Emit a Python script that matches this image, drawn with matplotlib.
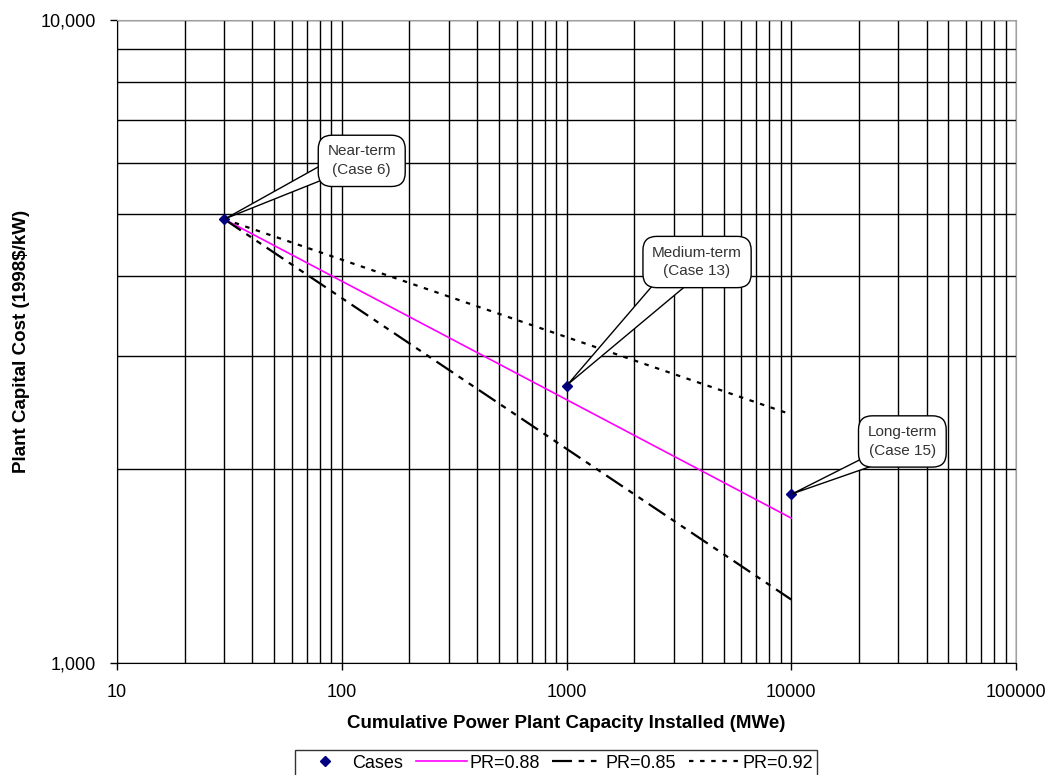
import numpy as np
import matplotlib
matplotlib.use("Agg")
import matplotlib.pyplot as plt
from matplotlib.lines import Line2D
from matplotlib.ticker import FixedLocator, LogLocator, NullFormatter, FixedFormatter

plt.rcParams['font.family'] = ['Liberation Sans', 'DejaVu Sans']

# Estimated cases (cumulative capacity in MWe, capital cost in 1998$/kW)
case_names = ["Near-term\n(Case 6)", "Medium-term\n(Case 13)", "Long-term\n(Case 15)"]
case_capacity = [30, 1000, 10000]
case_cost = [4900, 2700, 1830]

# Learning curves: start and end of each progress-ratio line
curve_capacity = [30, 10000]
pr088_cost = [4900, 1680]
pr085_cost = [4900, 1255]
pr092_cost = [4900, 2435]

x_ticks = [10, 100, 1000, 10000, 100000]
x_tick_labels = ["10", "100", "1000", "10000", "100000"]
y_ticks = [1000, 10000]
y_tick_labels = ["1,000", "10,000"]

fig = plt.figure(figsize=(10.5, 7.75), dpi=100)
ax = fig.add_axes([117 / 1050, 1 - 663 / 775, (1016 - 117) / 1050, (663 - 20) / 775])

ax.set_xscale("log")
ax.set_yscale("log")
ax.set_xlim(10, 100000)
ax.set_ylim(1000, 10000)

# Grid on every decade subdivision
ax.xaxis.set_major_locator(FixedLocator(x_ticks))
ax.xaxis.set_major_formatter(FixedFormatter(x_tick_labels))
ax.yaxis.set_major_locator(FixedLocator(y_ticks))
ax.yaxis.set_major_formatter(FixedFormatter(y_tick_labels))
ax.xaxis.set_minor_locator(LogLocator(base=10, subs=np.arange(2, 10)))
ax.yaxis.set_minor_locator(LogLocator(base=10, subs=np.arange(2, 10)))
ax.xaxis.set_minor_formatter(NullFormatter())
ax.yaxis.set_minor_formatter(NullFormatter())
ax.grid(True, which="both", color="black", linewidth=1.0, zorder=0)
ax.set_axisbelow(True)
ax.tick_params(which="major", direction="out", length=5, width=1, labelsize=13, colors="black")
ax.tick_params(which="minor", length=0)
ax.tick_params(axis="x", pad=10)
ax.tick_params(axis="y", pad=10)
for side in ("top", "right"):
    ax.spines[side].set_color("#a0a0a0")
for side in ("left", "bottom"):
    ax.spines[side].set_color("black")

ax.plot(curve_capacity, pr088_cost, color="#ff00ff", linewidth=1.2, zorder=3)
ax.plot(curve_capacity, pr085_cost, color="black", linewidth=1.6,
        dashes=(9, 3, 2.5, 3, 2.5, 3), zorder=3)
ax.plot(curve_capacity, pr092_cost, color="black", linewidth=1.6,
        dashes=(2, 3), zorder=3)
ax.plot(case_capacity, case_cost, linestyle="none", marker="D", markersize=5.5,
        color="#000080", zorder=4)

# Callouts for the cases: box offset (points), wedge start on the box, wedge width
offsets = [(99, 42), (94, 89), (80, 38)]
rel_starts = [(0.08, 0.3), (0.3, 0.12), (0.3, 0.15)]
tail_widths = [1.0, 1.7, 0.9]
for name, xv, yv, off, rp, tw in zip(case_names, case_capacity, case_cost,
                                     offsets, rel_starts, tail_widths):
    ax.annotate(name, xy=(xv, yv), xytext=off, textcoords="offset points",
                ha="center", va="center", fontsize=11, linespacing=1.45,
                color="#333333",
                bbox=dict(boxstyle="round,pad=0.6,rounding_size=0.9", fc="white",
                          ec="black", lw=1),
                arrowprops=dict(arrowstyle=f"wedge,tail_width={tw},shrink_factor=0.5",
                                fc="white", ec="black", lw=1, patchA=None,
                                shrinkA=0, shrinkB=1, relpos=rp),
                zorder=5)

ax.set_xlabel("Cumulative Power Plant Capacity Installed (MWe)", fontsize=13.5,
              fontweight="bold", labelpad=10)
ax.set_ylabel("Plant Capital Cost (1998$/kW)", fontsize=13.5, fontweight="bold")
ax.yaxis.set_label_coords((30 - 117) / 899, 0.5)

handles = [
    Line2D([], [], linestyle="none", marker="D", markersize=5, color="#000080"),
    Line2D([], [], color="#ff00ff", linewidth=1.2),
    Line2D([], [], color="black", linewidth=1.6, dashes=(9, 3, 2.5, 3, 2.5, 3)),
    Line2D([], [], color="black", linewidth=1.6, dashes=(2, 3)),
]
labels = ["Cases", "PR=0.88", "PR=0.85", "PR=0.92"]
leg = fig.legend(handles, labels, loc="upper center", bbox_to_anchor=(556 / 1050, 1 - 750 / 775),
                 ncol=4, fontsize=13, frameon=True, fancybox=False, edgecolor="black",
                 handlelength=2.8, handletextpad=0.15, columnspacing=0.7, borderpad=0.25,
                 borderaxespad=0)
leg.get_frame().set_linewidth(1.0)

fig.savefig("out.png", dpi=100)
